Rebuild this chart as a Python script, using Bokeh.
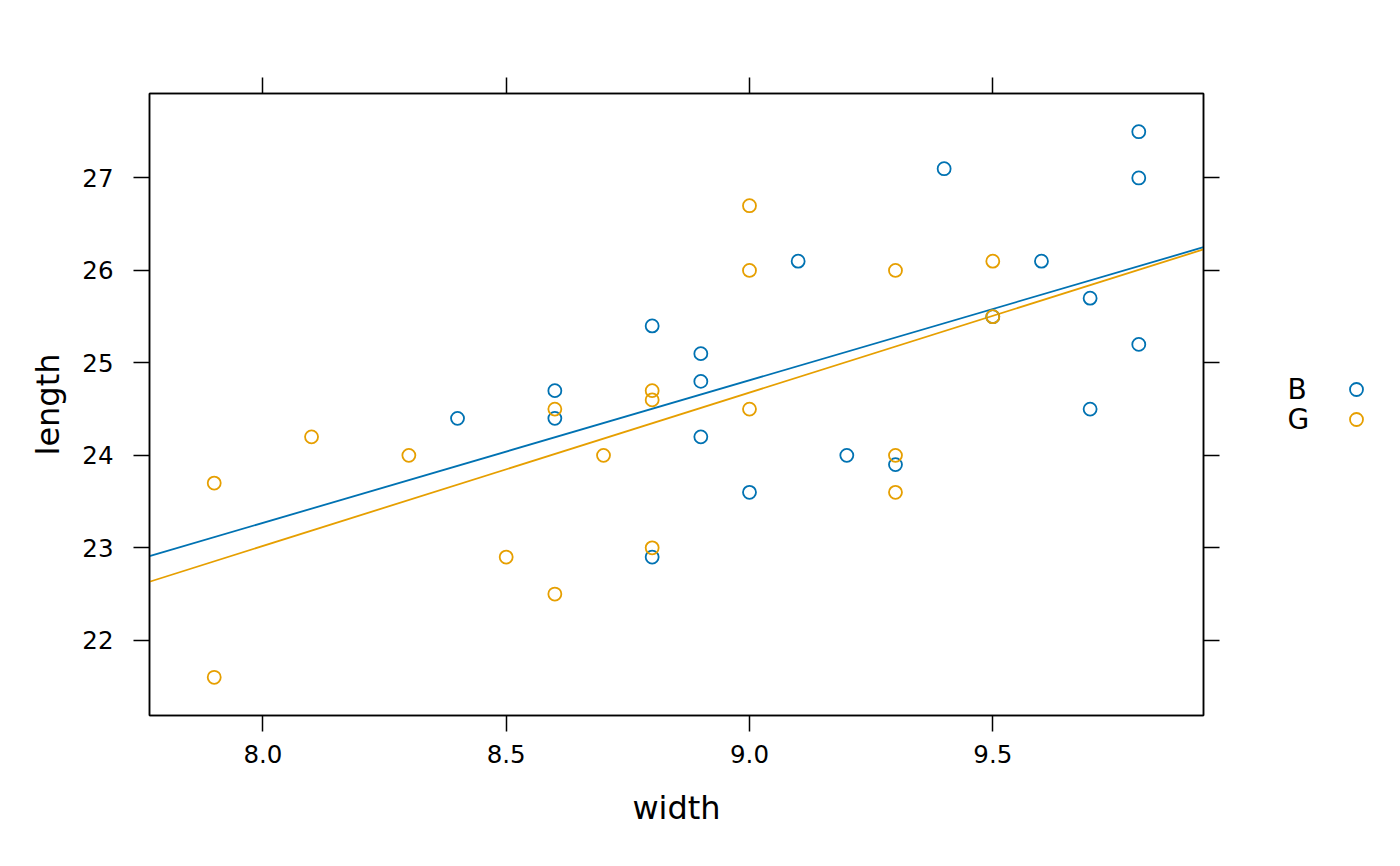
import numpy as np
from bokeh.plotting import figure
from bokeh.layouts import row
from bokeh.models import Range1d, FixedTicker, LinearAxis, PrintfTickFormatter
from bokeh.embed import file_html
from bokeh.resources import INLINE

# Boys (B)
b_width = [8.4, 8.6, 8.6, 8.8, 8.8, 8.9, 8.9, 8.9, 9.0, 9.1, 9.2, 9.3, 9.4, 9.5, 9.6, 9.7, 9.7, 9.8, 9.8, 9.8]
b_length = [24.4, 24.7, 24.4, 25.4, 22.9, 25.1, 24.8, 24.2, 23.6, 26.1, 24.0, 23.9, 27.1, 25.5, 26.1, 25.7, 24.5, 27.5, 27.0, 25.2]
# Girls (G)
g_width = [7.9, 7.9, 8.1, 8.3, 8.5, 8.6, 8.6, 8.7, 8.8, 8.8, 8.8, 9.0, 9.0, 9.0, 9.3, 9.3, 9.3, 9.5, 9.5]
g_length = [23.7, 21.6, 24.2, 24.0, 22.9, 24.5, 22.5, 24.0, 24.7, 24.6, 23.0, 26.7, 26.0, 24.5, 26.0, 24.0, 23.6, 26.1, 25.5]

groups = ["B", "G"]
colors = ["#0072B2", "#E69F00"]
x_ticks = [8.0, 8.5, 9.0, 9.5]
y_ticks = [22, 23, 24, 25, 26, 27]

allx = b_width + g_width
ally = b_length + g_length
xpad = 0.07 * (max(allx) - min(allx))
ypad = 0.07 * (max(ally) - min(ally))
x0, x1 = min(allx) - xpad, max(allx) + xpad
y0, y1 = min(ally) - ypad, max(ally) + ypad

FONT = "DejaVu Sans"

p = figure(width=1232, height=850, output_backend="svg", toolbar_location=None,
           x_range=Range1d(x0, x1), y_range=Range1d(y0, y1),
           x_axis_location=None, y_axis_location=None,
           min_border_left=149, min_border_right=29, min_border_top=93, min_border_bottom=135)
p.background_fill_color = "white"
p.border_fill_color = "white"
p.outline_line_color = "black"
p.outline_line_width = 1.5
p.grid.visible = False

bottom = LinearAxis(axis_label="width", ticker=FixedTicker(ticks=x_ticks),
                    formatter=PrintfTickFormatter(format="%.1f"))
top = LinearAxis(ticker=FixedTicker(ticks=x_ticks))
left = LinearAxis(axis_label="length", ticker=FixedTicker(ticks=y_ticks))
right = LinearAxis(ticker=FixedTicker(ticks=y_ticks))
p.add_layout(bottom, "below")
p.add_layout(top, "above")
p.add_layout(left, "left")
p.add_layout(right, "right")

for ax in (bottom, top, left, right):
    ax.axis_line_color = "black"
    ax.axis_line_width = 1.5
    ax.major_tick_line_color = "black"
    ax.major_tick_line_width = 1.5
    ax.major_tick_out = 16
    ax.major_tick_in = 0
    ax.minor_tick_line_color = None
    ax.major_label_text_font = FONT
    ax.major_label_text_font_size = "24.5px"
    ax.major_label_text_color = "black"
    ax.axis_label_text_font = FONT
    ax.axis_label_text_font_size = "32px"
    ax.axis_label_text_font_style = "normal"
    ax.axis_label_text_color = "black"

bottom.major_label_standoff = 13
bottom.axis_label_standoff = 23
left.major_label_standoff = 20
left.axis_label_standoff = 12
left.major_label_orientation = "horizontal"
top.major_label_text_color = None
right.major_label_text_color = None

data = [(b_width, b_length), (g_width, g_length)]
for (xs, ys), c in zip(data, colors):
    k, b = np.polyfit(xs, ys, 1)
    p.line([x0, x1], [k * x0 + b, k * x1 + b], line_color=c, line_width=1.8)
for (xs, ys), c in zip(data, colors):
    p.scatter(xs, ys, marker="circle", size=13, fill_color=None, line_color=c, line_width=1.8)

# legend panel (its frame is aligned with the main frame: top 93, bottom 715)
lg = figure(width=152, height=850, output_backend="svg", toolbar_location=None,
            x_range=Range1d(0, 152), y_range=Range1d(715, 93),
            min_border=0)
lg.axis.visible = False
lg.grid.visible = False
lg.outline_line_color = None
lg.background_fill_color = "white"
lg.border_fill_color = "white"
ys_leg = [389, 419]
lg.text(x=[55, 55], y=ys_leg, text=groups, text_font_size="28px",
        text_baseline="middle", text_align="left", text_color="black",
        text_font={"value": FONT})
lg.scatter(x=[124, 124], y=ys_leg, marker="circle", size=13, fill_color=None,
           line_color=colors, line_width=1.8)

layout = row(p, lg, spacing=0)
open("out.html", "w").write(file_html(layout, INLINE))
